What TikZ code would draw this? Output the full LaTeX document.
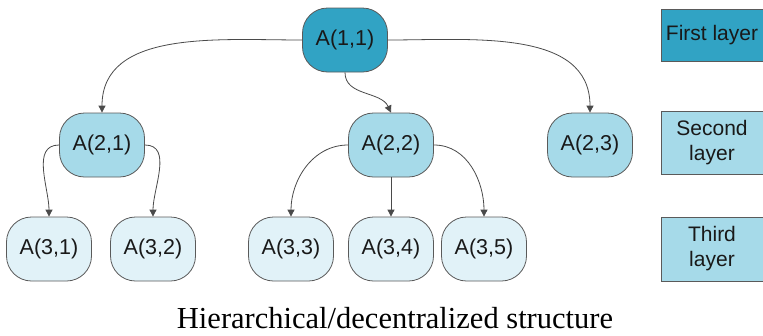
\documentclass[tikz,border=0pt]{standalone}
\usepackage{fontspec}
\setmainfont{Liberation Sans}
\newfontfamily\captionserif{Liberation Serif}
\usetikzlibrary{arrows.meta}
\definecolor{topblue}{HTML}{31A3C4}
\definecolor{midblue}{HTML}{A6DAE9}
\definecolor{lowblue}{HTML}{E1F2F8}
\definecolor{edgegray}{HTML}{5A5A5A}
\definecolor{linkgray}{HTML}{4A4A4A}
\tikzset{
  agent/.style={draw=edgegray, line width=0.8pt, rounded corners=25pt,
    minimum width=85pt, minimum height=64pt, inner sep=0pt,
    font=\fontsize{21.5}{24}\selectfont, text=black!90},
  lvl1/.style={agent, fill=topblue},
  lvl2/.style={agent, fill=midblue},
  lvl3/.style={agent, fill=lowblue},
  layerbox/.style={draw=edgegray, line width=0.8pt, minimum width=102pt,
    inner sep=0pt, align=center, font=\fontsize{21}{25}\selectfont,
    text=black!90},
  link/.style={draw=linkgray, line width=0.8pt,
    -{Triangle[length=7pt,width=7pt]}}
}
\begin{document}
\begin{tikzpicture}[x=1pt,y=-1pt]
\useasboundingbox (0,0) rectangle (763,335);

% agents
\node[lvl1] (a11) at (345,40) {A(1,1)};
\node[lvl2] (a21) at (102,145) {A(2,1)};
\node[lvl2] (a22) at (391,145) {A(2,2)};
\node[lvl2] (a23) at (590,145) {A(2,3)};
\node[lvl3] (a31) at (49,249) {A(3,1)};
\node[lvl3] (a32) at (153,249) {A(3,2)};
\node[lvl3] (a33) at (291,249) {A(3,3)};
\node[lvl3] (a34) at (391,249) {A(3,4)};
\node[lvl3] (a35) at (484,249) {A(3,5)};

% layer legend
\node[layerbox, fill=topblue, minimum height=52pt] (l1) at (712,35) {First layer};
\node[layerbox, fill=midblue, minimum height=63pt] (l2) at (712,142.5) {Second\\layer};
\node[layerbox, fill=midblue, minimum height=64pt] (l3) at (712,249) {Third\\layer};

% links
\draw[link] (a11.west) to[out=180,in=90] (a21.north);
\draw[link] (a11.east) to[out=0,in=90] (a23.north);
\draw[link] (a11.south) to[out=-90,in=115] (a22.north);
\draw[link] (a21.west) to[out=180,in=90] (a31.north);
\draw[link] (a21.east) to[out=0,in=90] (a32.north);
\draw[link] (a22.west) to[out=180,in=90] (a33.north);
\draw[link] (a22.south) -- (a34.north);
\draw[link] (a22.east) to[out=0,in=90] (a35.north);

% caption
\node[font=\captionserif\fontsize{30.5}{34}\selectfont] (cap) at (395,318)
  {Hierarchical/decentralized structure};
\end{tikzpicture}
\end{document}
